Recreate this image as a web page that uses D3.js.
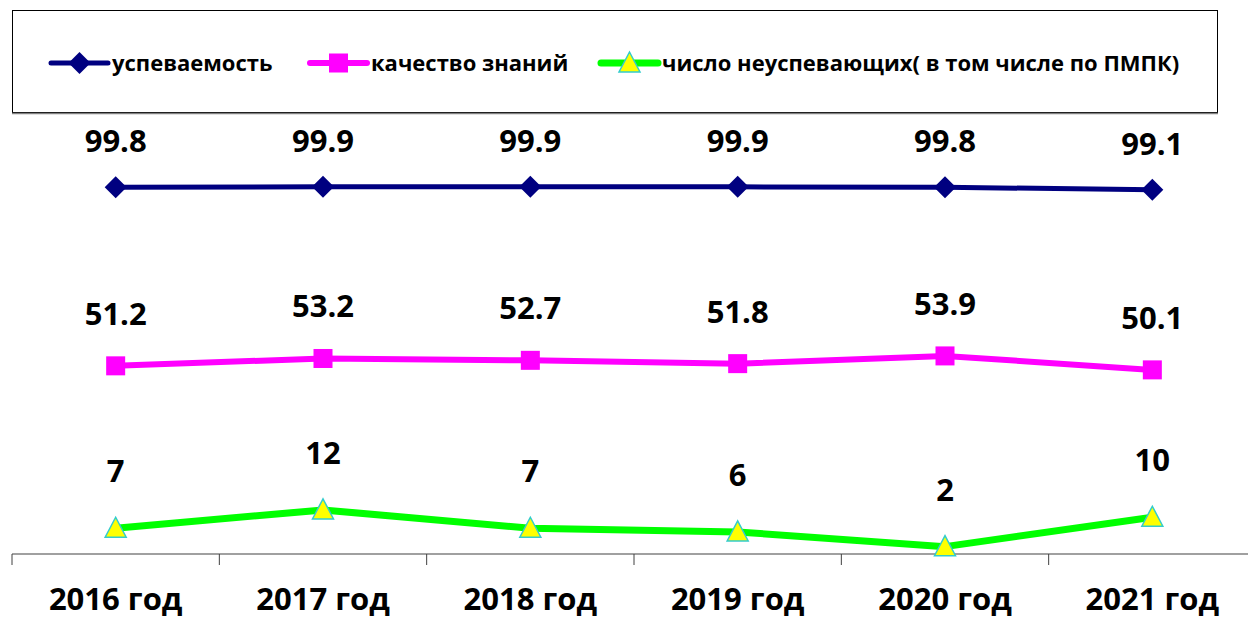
<!DOCTYPE html>
<html>
<head>
<meta charset="utf-8">
<script src="https://cdn.jsdelivr.net/npm/d3@7"></script>
<style>
  body { margin: 0; background: #fff; }
  svg { display: block; font-family: "Open Sans", "Noto Sans", sans-serif; }
</style>
</head>
<body>
<svg></svg>
<script>
// chart data
const years = ["2016 год", "2017 год", "2018 год", "2019 год", "2020 год", "2021 год"];
const uspevaemost = [99.8, 99.9, 99.9, 99.9, 99.8, 99.1];
const kachestvo = [51.2, 53.2, 52.7, 51.8, 53.9, 50.1];
const neuspevayushchie = [7, 12, 7, 6, 2, 10];
const seriesNames = ["успеваемость", "качество знаний", "число неуспевающих( в том числе по ПМПК)"];

const width = 1248, height = 618;
const svg = d3.select("svg").attr("width", width).attr("height", height);

// plot area
const plotLeft = 12, plotRight = 1256, plotTop = 113, plotBottom = 554;

const x = d3.scaleBand().domain(years).range([plotLeft, plotRight]);
const y = d3.scaleLinear().domain([0, 120]).range([plotBottom, plotTop]);

// series styling
const series = [
  { name: seriesNames[0], values: uspevaemost, color: "#000080", width: 5, marker: "diamond", labelDy: -35 },
  { name: seriesNames[1], values: kachestvo, color: "#ff00ff", width: 6, marker: "square", labelDy: -41 },
  { name: seriesNames[2], values: neuspevayushchie, color: "#00ff00", width: 7, marker: "triangle", labelDy: -46 }
];

function drawMarker(g, type, cx, cy) {
  if (type === "diamond") {
    g.append("path")
      .attr("d", `M${cx},${cy - 11}L${cx + 11},${cy}L${cx},${cy + 11}L${cx - 11},${cy}Z`)
      .attr("fill", "#000080");
  } else if (type === "square") {
    g.append("rect")
      .attr("x", cx - 9.5).attr("y", cy - 9.5)
      .attr("width", 19).attr("height", 19)
      .attr("fill", "#ff00ff");
  } else {
    g.append("path")
      .attr("d", `M${cx},${cy - 11}L${cx + 10.5},${cy + 9}L${cx - 10.5},${cy + 9}Z`)
      .attr("fill", "#ffff00")
      .attr("stroke", "#33cccc")
      .attr("stroke-width", 1.5);
  }
}

// x axis
const axisG = svg.append("g");
axisG.append("line")
  .attr("x1", plotLeft).attr("x2", width)
  .attr("y1", plotBottom).attr("y2", plotBottom)
  .attr("stroke", "#808080").attr("stroke-width", 1.5);

const tickPos = years.map(d => x(d)).concat([x(years[years.length - 1]) + x.bandwidth()]);
axisG.selectAll(".tick")
  .data(tickPos)
  .enter()
  .append("line")
  .attr("x1", d => d).attr("x2", d => d)
  .attr("y1", plotBottom).attr("y2", plotBottom + 11)
  .attr("stroke", "#404040").attr("stroke-width", 1);

axisG.selectAll(".cat")
  .data(years)
  .enter()
  .append("text")
  .attr("x", d => x(d) + x.bandwidth() / 2)
  .attr("y", 610)
  .attr("text-anchor", "middle")
  .attr("font-size", 31)
  .attr("font-weight", "bold")
  .attr("fill", "#000")
  .text(d => d);

// lines, markers, labels
const line = d3.line()
  .x((d, i) => x(years[i]) + x.bandwidth() / 2)
  .y(d => y(d));

series.forEach(s => {
  const g = svg.append("g");
  g.append("path")
    .datum(s.values)
    .attr("d", line)
    .attr("fill", "none")
    .attr("stroke", s.color)
    .attr("stroke-width", s.width)
    .attr("stroke-linejoin", "round");

  s.values.forEach((v, i) => {
    drawMarker(g, s.marker, x(years[i]) + x.bandwidth() / 2, y(v));
  });

  g.selectAll(".lbl")
    .data(s.values)
    .enter()
    .append("text")
    .attr("x", (d, i) => x(years[i]) + x.bandwidth() / 2)
    .attr("y", d => y(d) + s.labelDy)
    .attr("text-anchor", "middle")
    .attr("font-size", 31)
    .attr("font-weight", "bold")
    .attr("fill", "#000")
    .text(d => d);
});

// legend
const legend = svg.append("g");
legend.append("rect")
  .attr("x", 12.5).attr("y", 10.5)
  .attr("width", 1205).attr("height", 102)
  .attr("fill", "#fff")
  .attr("stroke", "#000").attr("stroke-width", 1);
legend.append("line")
  .attr("x1", 12).attr("x2", 1218)
  .attr("y1", 113.5).attr("y2", 113.5)
  .attr("stroke", "#808080").attr("stroke-width", 1.5);

const legendX = [51, 310, 601];
series.forEach((s, i) => {
  const lx = legendX[i];
  const ly = 63;
  legend.append("line")
    .attr("x1", lx).attr("x2", lx + 57)
    .attr("y1", ly).attr("y2", ly)
    .attr("stroke", s.color)
    .attr("stroke-width", s.width)
    .attr("stroke-linecap", "round");
  drawMarker(legend, s.marker, lx + 28.5, ly);
  legend.append("text")
    .attr("x", lx + 61)
    .attr("y", ly + 8)
    .attr("font-size", 22)
    .attr("font-weight", "bold")
    .attr("fill", "#000")
    .text(s.name);
});
</script>
</body>
</html>
